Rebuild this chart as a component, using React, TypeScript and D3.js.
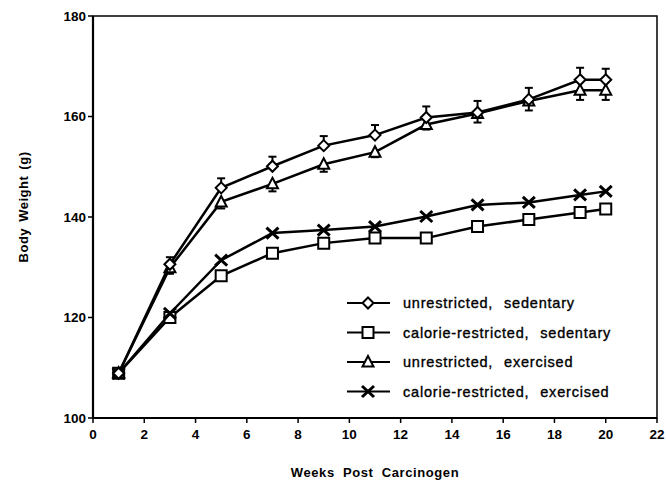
import React from "react";
import * as d3 from "d3";

// weeks post carcinogen
const weeks = [1, 3, 5, 7, 9, 11, 13, 15, 17, 19, 20];

const unrestrictedSedentary = [108.9, 130.6, 145.8, 150.1, 154.2, 156.3, 159.8, 160.8, 163.4, 167.3, 167.3];
const unrestrictedSedentaryErr = [0, 1.4, 1.9, 1.9, 1.9, 2.0, 2.2, 2.3, 2.3, 2.4, 2.2];
const calorieSedentary = [108.9, 120.0, 128.3, 132.8, 134.8, 135.8, 135.8, 138.1, 139.5, 140.9, 141.6];
const unrestrictedExercised = [108.9, 129.9, 143.0, 146.6, 150.5, 152.9, 158.4, 160.6, 163.1, 165.2, 165.2];
const unrestrictedExercisedErr = [0, 1.2, 1.3, 1.5, 1.5, 1.0, 1.0, 1.8, 1.9, 1.9, 1.9];
const calorieExercised = [108.9, 120.8, 131.4, 136.8, 137.4, 138.1, 140.1, 142.4, 142.9, 144.4, 145.1];

const xTicks = [0, 2, 4, 6, 8, 10, 12, 14, 16, 18, 20, 22];
const yTicks = [100, 120, 140, 160, 180];

const legendLabels = [
  "unrestricted, sedentary",
  "calorie-restricted, sedentary",
  "unrestricted, exercised",
  "calorie-restricted, exercised",
];

type Shape = "diamond" | "square" | "triangle" | "cross";

const markerPath = (shape: Shape, x: number, y: number) => {
  switch (shape) {
    case "diamond":
      return `M${x},${y - 5.5}L${x + 5.5},${y}L${x},${y + 5.5}L${x - 5.5},${y}Z`;
    case "square":
      return `M${x - 5.5},${y - 5.5}h11v11h-11Z`;
    case "triangle":
      return `M${x},${y - 6}L${x + 5.5},${y + 4.5}L${x - 5.5},${y + 4.5}Z`;
    default:
      return `M${x - 6},${y - 5.5}L${x + 6},${y + 5.5}M${x - 6},${y + 5.5}L${x + 6},${y - 5.5}`;
  }
};

const App = () => {
  const width = 666;
  const height = 481;
  const left = 93;
  const right = 657;
  const top = 16;
  const bottom = 418;

  const x = d3.scaleLinear().domain([0, 22]).range([left, right]);
  const y = d3.scaleLinear().domain([100, 180]).range([bottom, top]);

  const line = d3
    .line<number>()
    .x((d, i) => x(weeks[i]))
    .y((d) => y(d));

  const series: { values: number[]; shape: Shape; err?: number[]; dir?: number }[] = [
    { values: calorieSedentary, shape: "square" },
    { values: calorieExercised, shape: "cross" },
    { values: unrestrictedExercised, shape: "triangle", err: unrestrictedExercisedErr, dir: -1 },
    { values: unrestrictedSedentary, shape: "diamond", err: unrestrictedSedentaryErr, dir: 1 },
  ];
  const legendShapes: Shape[] = ["diamond", "square", "triangle", "cross"];

  const font = "'Liberation Sans', Arial, Helvetica, sans-serif";

  return (
    <svg
      width={width}
      height={height}
      style={{ position: "absolute", left: 0, top: 0, background: "#fff" }}
      fontFamily={font}
    >
      {/* frame */}
      <rect x={left} y={top} width={right - left} height={bottom - top} fill="none" stroke="#000" strokeWidth={1.5} />
      <line x1={left} x2={left} y1={top} y2={bottom + 1} stroke="#000" strokeWidth={2.2} />
      <line x1={left - 1} x2={right} y1={bottom} y2={bottom} stroke="#000" strokeWidth={2.2} />

      {/* y axis */}
      {yTicks.map((t) => (
        <g key={t}>
          <line x1={left - 5} x2={left} y1={y(t)} y2={y(t)} stroke="#000" strokeWidth={1.5} />
          <text x={left - 7} y={y(t)} dy="0.35em" textAnchor="end" fontSize={13.5} fontWeight="bold">
            {t}
          </text>
        </g>
      ))}

      {/* x axis */}
      {xTicks.map((t) => (
        <g key={t}>
          <line x1={x(t)} x2={x(t)} y1={bottom} y2={bottom + 5} stroke="#000" strokeWidth={1.5} />
          <text x={x(t)} y={bottom + 21} textAnchor="middle" fontSize={13.5} fontWeight="bold">
            {t}
          </text>
        </g>
      ))}

      <text
        x={(left + right) / 2}
        y={477}
        textAnchor="middle"
        fontSize={13}
        fontWeight="bold"
        letterSpacing={0.6}
        wordSpacing={4}
      >
        Weeks Post Carcinogen
      </text>
      <text
        transform={`translate(28,${207}) rotate(-90)`}
        textAnchor="middle"
        fontSize={13}
        fontWeight="bold"
        letterSpacing={0.5}
        wordSpacing={2}
      >
        Body Weight (g)
      </text>

      {/* series */}
      {series.map((s, si) => (
        <g key={si}>
          <path d={line(s.values) ?? ""} fill="none" stroke="#000" strokeWidth={2.5} />
          {s.err &&
            s.values.map((v, i) =>
              s.err![i] > 0 ? (
                <g key={i} stroke="#000" strokeWidth={2}>
                  <line x1={x(weeks[i])} x2={x(weeks[i])} y1={y(v)} y2={y(v + s.dir! * s.err![i])} />
                  <line
                    x1={x(weeks[i]) - 4}
                    x2={x(weeks[i]) + 4}
                    y1={y(v + s.dir! * s.err![i])}
                    y2={y(v + s.dir! * s.err![i])}
                  />
                </g>
              ) : null
            )}
          {s.values.map((v, i) => (
            <path
              key={i}
              d={markerPath(s.shape, x(weeks[i]), y(v))}
              fill={s.shape === "cross" ? "none" : "#fff"}
              stroke="#000"
              strokeWidth={s.shape === "cross" ? 3 : 2}
            />
          ))}
        </g>
      ))}

      {/* legend */}
      {legendLabels.map((label, i) => {
        const ly = 303 + i * 29.5;
        return (
          <g key={label}>
            <line x1={347} x2={390} y1={ly} y2={ly} stroke="#000" strokeWidth={2} />
            <path
              d={markerPath(legendShapes[i], 368, ly)}
              fill={legendShapes[i] === "cross" ? "none" : "#fff"}
              stroke="#000"
              strokeWidth={legendShapes[i] === "cross" ? 3 : 2}
            />
            <text
              x={403}
              y={ly}
              dy="0.35em"
              fontSize={14.5}
              letterSpacing={0.8}
              wordSpacing={6}
              stroke="#000"
              strokeWidth={0.35}
            >
              {label}
            </text>
          </g>
        );
      })}
    </svg>
  );
};

export default App;
